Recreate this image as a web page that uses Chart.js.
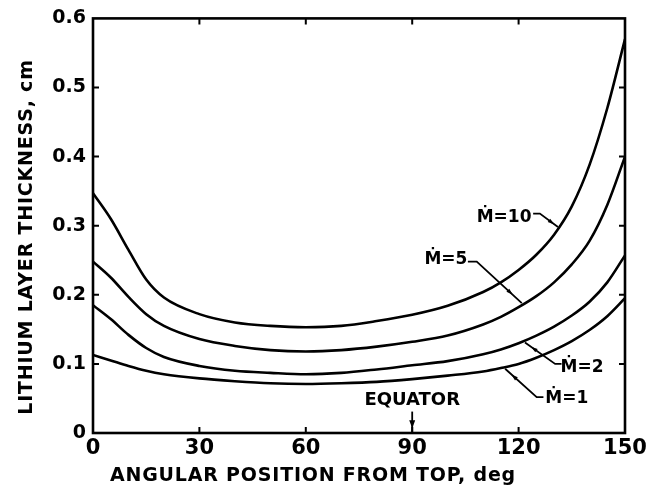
<!DOCTYPE html>
<html>
<head>
<meta charset="utf-8">
<script src="https://cdn.jsdelivr.net/npm/chart.js@4.4.1/dist/chart.umd.min.js"></script>
<style>
  html, body { margin: 0; padding: 0; background: #fff; }
  #wrap { width: 653px; height: 487px; }
</style>
</head>
<body>
<div id="wrap"><canvas id="chart"></canvas></div>
<script>
// angle from top, deg
const angles = [0, 5, 10, 15, 20, 30, 40, 50, 60, 70, 80, 90, 100, 110, 115, 120, 125, 130, 135, 140, 145, 150]
// lithium layer thickness, cm  (one list per mass flow rate)
const m10 = [0.347, 0.310, 0.265, 0.222, 0.196, 0.172, 0.160, 0.155, 0.153, 0.155, 0.162, 0.171, 0.184, 0.204, 0.218, 0.236, 0.258, 0.287, 0.328, 0.388, 0.470, 0.570]
const m5  = [0.248, 0.225, 0.197, 0.172, 0.155, 0.136, 0.126, 0.120, 0.118, 0.120, 0.125, 0.132, 0.141, 0.157, 0.168, 0.182, 0.198, 0.218, 0.244, 0.278, 0.330, 0.400]
const m2  = [0.185, 0.165, 0.142, 0.123, 0.110, 0.097, 0.090, 0.087, 0.085, 0.087, 0.092, 0.098, 0.104, 0.114, 0.121, 0.130, 0.141, 0.154, 0.170, 0.190, 0.218, 0.257]
const m1  = [0.113, 0.105, 0.097, 0.090, 0.085, 0.079, 0.075, 0.072, 0.071, 0.072, 0.074, 0.078, 0.083, 0.089, 0.094, 0.100, 0.109, 0.120, 0.133, 0.149, 0.169, 0.195]
const xTicks = [0, 30, 60, 90, 120, 150]
const yTicks = [0, 0.1, 0.2, 0.3, 0.4, 0.5, 0.6]

// curve labels with leader lines (data coords)
const notes = [
    {text: 'Ṁ=10', x: 115.9, y: 0.312, leader: [[124.1, 0.3175], [126, 0.3175], [131.1, 0.298]]},
    {text: 'Ṁ=5', x: 99.5, y: 0.251, leader: [[105.7, 0.248], [108.2, 0.248], [120.9, 0.188]]},
    {text: 'Ṁ=2', x: 137.9, y: 0.095, leader: [[132.1, 0.100], [130.3, 0.100], [121.8, 0.131]]},
    {text: 'Ṁ=1', x: 133.6, y: 0.050, leader: [[127, 0.052], [125.1, 0.052], [116.2, 0.093]]},
]
const xTitle = 'ANGULAR POSITION FROM TOP, deg'
const yTitle = 'LITHIUM LAYER THICKNESS, cm'

const FONT = 'DejaVu Sans'
Chart.defaults.font.family = FONT
Chart.defaults.color = '#000'

function pts(arr) {
    return angles.map((a, i) => ({x: a, y: arr[i]}))
}
function series(label, arr) {
    return {
        label: label,
        data: pts(arr),
        borderColor: '#000',
        borderWidth: 2.6,
        pointRadius: 0,
        cubicInterpolationMode: 'monotone',
        fill: false
    }
}

const framePlugin = {
    id: 'frame',
    afterDatasetsDraw(chart) {
        const c = chart.ctx
        const a = chart.chartArea
        const xs = chart.scales.x, ys = chart.scales.y
        c.save()
        c.strokeStyle = '#000'
        c.lineWidth = 2.6
        c.strokeRect(a.left, a.top, a.right - a.left, a.bottom - a.top)
        // inward ticks on all four sides
        c.lineWidth = 2
        const t = 6
        c.beginPath()
        xTicks.slice(1, -1).forEach(v => {
            const px = xs.getPixelForValue(v)
            c.moveTo(px, a.bottom); c.lineTo(px, a.bottom - t)
            c.moveTo(px, a.top); c.lineTo(px, a.top + t)
        })
        yTicks.slice(1, -1).forEach(v => {
            const py = ys.getPixelForValue(v)
            c.moveTo(a.left, py); c.lineTo(a.left + t, py)
            c.moveTo(a.right, py); c.lineTo(a.right - t, py)
        })
        c.stroke()

        // axis titles
        c.fillStyle = '#000'
        c.textAlign = 'center'
        c.textBaseline = 'middle'
        c.font = 'bold 19px ' + FONT
        c.letterSpacing = '0.8px'
        c.fillText(xTitle, 313, 476)
        c.save()
        c.translate(27, 237)
        c.rotate(-Math.PI / 2)
        c.fillText(yTitle, 0, 0)
        c.restore()
        c.letterSpacing = '0px'

        // curve labels
        c.font = 'bold 17px ' + FONT
        c.lineWidth = 1.8
        notes.forEach(n => {
            c.fillText(n.text, xs.getPixelForValue(n.x), ys.getPixelForValue(n.y))
            const p = n.leader.map(q => [xs.getPixelForValue(q[0]), ys.getPixelForValue(q[1])])
            c.beginPath()
            c.moveTo(p[0][0], p[0][1])
            for (let i = 1; i < p.length; i++) c.lineTo(p[i][0], p[i][1])
            c.stroke()
            // small arrowhead along the last segment
            const s = p[p.length - 2], e = p[p.length - 1]
            const ang = Math.atan2(e[1] - s[1], e[0] - s[0])
            const hx = s[0] + (e[0] - s[0]) * 0.8, hy = s[1] + (e[1] - s[1]) * 0.8
            c.beginPath()
            c.moveTo(hx, hy)
            c.lineTo(hx - 7 * Math.cos(ang - 0.3), hy - 7 * Math.sin(ang - 0.3))
            c.lineTo(hx - 7 * Math.cos(ang + 0.3), hy - 7 * Math.sin(ang + 0.3))
            c.closePath()
            c.fill()
        })

        // equator marker
        const ex = xs.getPixelForValue(90)
        c.font = 'bold 18px ' + FONT
        c.fillText('EQUATOR', ex, ys.getPixelForValue(0.047))
        c.beginPath()
        c.moveTo(ex, ys.getPixelForValue(0.031))
        c.lineTo(ex, a.bottom)
        c.stroke()
        const ay = ys.getPixelForValue(0.014)
        c.beginPath()
        c.moveTo(ex, ay + 5)
        c.lineTo(ex - 3, ay - 3)
        c.lineTo(ex + 3, ay - 3)
        c.closePath()
        c.fill()
        c.restore()
    }
}

new Chart(document.getElementById('chart'), {
    type: 'line',
    data: {
        datasets: [series('M=10', m10), series('M=5', m5), series('M=2', m2), series('M=1', m1)]
    },
    options: {
        responsive: true,
        maintainAspectRatio: false,
        animation: false,
        layout: {padding: {top: 15, right: 28, bottom: 0, left: 0}},
        plugins: {legend: {display: false}, tooltip: {enabled: false}},
        scales: {
            x: {
                type: 'linear',
                min: 0,
                max: 150,
                afterFit: s => { s.height = 54 },
                afterBuildTicks: s => { s.ticks = xTicks.map(v => ({value: v})) },
                grid: {display: false, drawTicks: false},
                border: {display: false},
                ticks: {padding: 3, font: {size: 21, weight: 'bold'}, maxRotation: 0},
                title: {display: false}
            },
            y: {
                min: 0,
                max: 0.6,
                afterFit: s => { s.width = 93 },
                afterBuildTicks: s => { s.ticks = yTicks.map(v => ({value: v})) },
                grid: {display: false, drawTicks: false},
                border: {display: false},
                ticks: {
                    padding: 7,
                    font: {size: 19, weight: 'bold'},
                    callback: v => v === 0 ? '0' : v.toFixed(1)
                },
                title: {display: false}
            }
        }
    },
    plugins: [framePlugin]
})
</script>
</body>
</html>
